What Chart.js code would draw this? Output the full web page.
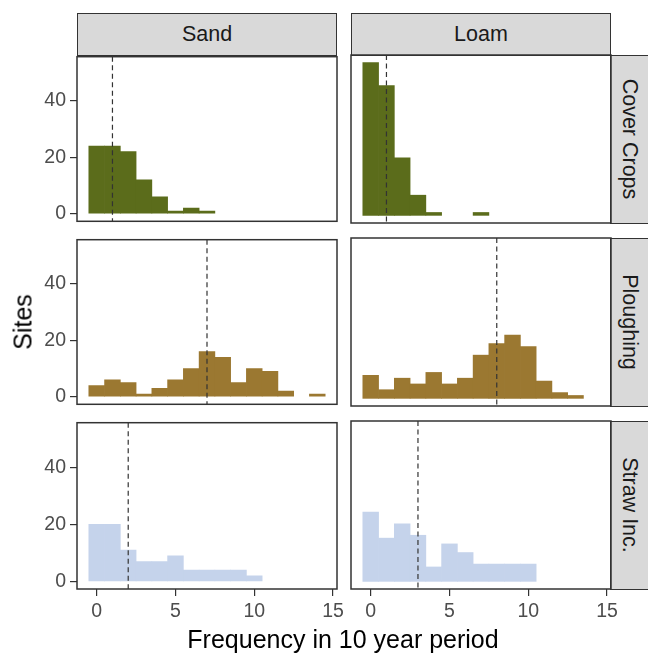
<!DOCTYPE html>
<html>
<head>
<meta charset="utf-8">
<title>Sites per practice</title>
<script src="https://cdn.jsdelivr.net/npm/chart.js@4.4.1/dist/chart.umd.min.js"></script>
<style>
    html, body { margin: 0; padding: 0; background: #fff; overflow: hidden; }
    #figura { position: relative; width: 648px; height: 656px; font-family: "Liberation Sans", Arial, sans-serif; color: #1a1a1a; }
    #figura canvas { position: absolute; }
    .strip { position: absolute; background: #d9d9d9; border: 1px solid #333; box-sizing: border-box; }
    .texto { position: absolute; line-height: 1; white-space: nowrap; transform: translate(-50%, -50%); }
</style>
</head>
<body>
<div id="figura"></div>

<script>
// dados (contagem de sitios por bin de 1 ano)
const textures = ['Sand', 'Loam'];
const practices = ['Cover Crops', 'Ploughing', 'Straw Inc.'];
const bins = [0, 1, 2, 3, 4, 5, 6, 7, 8, 9, 10, 11, 12, 13, 14];
const xTicks = [0, 5, 10, 15];
const yTicks = [0, 20, 40];

const sandCoverCrops = [24, 24, 22, 12, 6, 1, 2, 1, 0, 0, 0, 0, 0, 0, 0];
const loamCoverCrops = [53, 45, 20, 7, 1, 0, 0, 1, 0, 0, 0, 0, 0, 0, 0];
const sandPloughing = [4, 6, 5, 1, 3, 6, 10, 16, 14, 5, 10, 9, 2, 0, 1];
const loamPloughing = [8, 3, 7, 5, 9, 5, 7, 15, 19, 22, 18, 6, 2, 1, 0];
const sandStraw = [20, 20, 11, 7, 7, 9, 4, 4, 4, 4, 2, 0, 0, 0, 0];
const loamStraw = [24, 15, 20, 16, 5, 13, 10, 6, 6, 6, 6, 0, 0, 0, 0];

// linha tracejada (media) de cada painel
const sandMeans = [1, 7, 2];
const loamMeans = [1, 8, 3];

const sites = [
    [sandCoverCrops, loamCoverCrops],
    [sandPloughing, loamPloughing],
    [sandStraw, loamStraw]
];
const means = [sandMeans, loamMeans];

const cores = ['#5b6c1b', '#9b7831', '#c5d3eb'];

// layout
const P = 14;
const colLeft = [77, 351];
const rowTop = [55, 238, 421];
const panelW = 260;
const panelH = 168;
const axisW = 77;
const xAxisH = 35;
const fonte = { family: '"Liberation Sans", Arial, sans-serif', size: 19.5 };

const figura = document.getElementById('figura');

function addTexto(txt, x, y, size, rot, color) {
    const d = document.createElement('div');
    d.className = 'texto';
    d.textContent = txt;
    d.style.left = x + 'px';
    d.style.top = y + 'px';
    d.style.fontSize = size + 'px';
    if (color) d.style.color = color;
    if (rot) d.style.transform = `translate(-50%, -50%) rotate(${rot}deg)`;
    figura.appendChild(d);
}

function addStrip(x, y, w, h) {
    const d = document.createElement('div');
    d.className = 'strip';
    d.style.left = x + 'px';
    d.style.top = y + 'px';
    d.style.width = w + 'px';
    d.style.height = h + 'px';
    figura.appendChild(d);
}

const painelDecor = {
    id: 'painelDecor',
    afterDatasetsDraw(chart, args, opts) {
        const ctx = chart.ctx;
        const area = chart.chartArea;
        const x = chart.scales.x.getPixelForValue(opts.mean);
        ctx.save();
        ctx.strokeStyle = '#333';
        ctx.lineWidth = 1.2;
        ctx.setLineDash([5, 3.5]);
        ctx.beginPath();
        ctx.moveTo(x, area.top);
        ctx.lineTo(x, area.bottom);
        ctx.stroke();
        ctx.setLineDash([]);
        ctx.lineWidth = 1.5;
        ctx.strokeRect(area.left, area.top, area.right - area.left, area.bottom - area.top);
        ctx.restore();
    }
};

function plotarPainel(r, c) {
    const canvas = document.createElement('canvas');
    const comY = c === 0;
    const comX = r === 2;
    const left = colLeft[c] - (comY ? axisW : 0) - P;
    const top = rowTop[r] - P;
    const w = panelW + (comY ? axisW : 0) + 2 * P;
    const h = panelH + (comX ? xAxisH : 0) + 2 * P;
    canvas.width = w;
    canvas.height = h;
    canvas.style.left = left + 'px';
    canvas.style.top = top + 'px';
    canvas.style.width = w + 'px';
    canvas.style.height = h + 'px';
    figura.appendChild(canvas);

    const valores = sites[r][c];

    const config = {
        type: 'bar',
        data: {
            datasets: [{
                data: bins.map((b, i) => ({ x: b, y: valores[i] === 0 ? null : valores[i] })),
                backgroundColor: cores[r],
                borderWidth: 0,
                barPercentage: 1,
                categoryPercentage: 1
            }]
        },
        options: {
            responsive: false,
            animation: false,
            devicePixelRatio: 1,
            layout: { padding: P },
            plugins: {
                legend: { display: false },
                tooltip: { enabled: false },
                painelDecor: { mean: means[c][r] }
            },
            scales: {
                x: {
                    type: 'linear',
                    min: -1.25,
                    max: 15.25,
                    offset: false,
                    display: comX,
                    afterBuildTicks: s => { s.ticks = xTicks.map(v => ({ value: v })); },
                    afterFit: s => { if (comX) s.height = xAxisH; },
                    grid: { offset: false, drawOnChartArea: false, drawTicks: true, tickLength: 7, color: '#333', lineWidth: 1.2 },
                    border: { display: false },
                    ticks: { font: fonte, color: '#4d4d4d', padding: 4, maxRotation: 0, autoSkip: false }
                },
                y: {
                    min: -2.65,
                    max: 55.65,
                    display: comY,
                    afterBuildTicks: s => { s.ticks = yTicks.map(v => ({ value: v })); },
                    afterFit: s => { if (comY) s.width = axisW; },
                    grid: { drawOnChartArea: false, drawTicks: true, tickLength: 7, color: '#333', lineWidth: 1.2 },
                    border: { display: false },
                    ticks: { font: fonte, color: '#4d4d4d', padding: 4 }
                }
            }
        },
        plugins: [painelDecor]
    };

    new Chart(canvas, config);
}

// faixas (strips) de cima e da direita
for (let c = 0; c < textures.length; c++) {
    addStrip(colLeft[c], 13, panelW, 43);
    addTexto(textures[c], colLeft[c] + panelW / 2, 34.5, 21.5);
}
for (let r = 0; r < practices.length; r++) {
    addStrip(colLeft[1] + panelW - 1, rowTop[r], 44, panelH + 1);
    addTexto(practices[r], 628.5, rowTop[r] + panelH / 2, 21.5, 90);
}

for (let r = 0; r < practices.length; r++) {
    for (let c = 0; c < textures.length; c++) {
        plotarPainel(r, c);
    }
}

addTexto('Sites', 22.5, 322, 25, -90, '#000');
addTexto('Frequency in 10 year period', 343, 638.5, 25, 0, '#000');
</script>
</body>
</html>
